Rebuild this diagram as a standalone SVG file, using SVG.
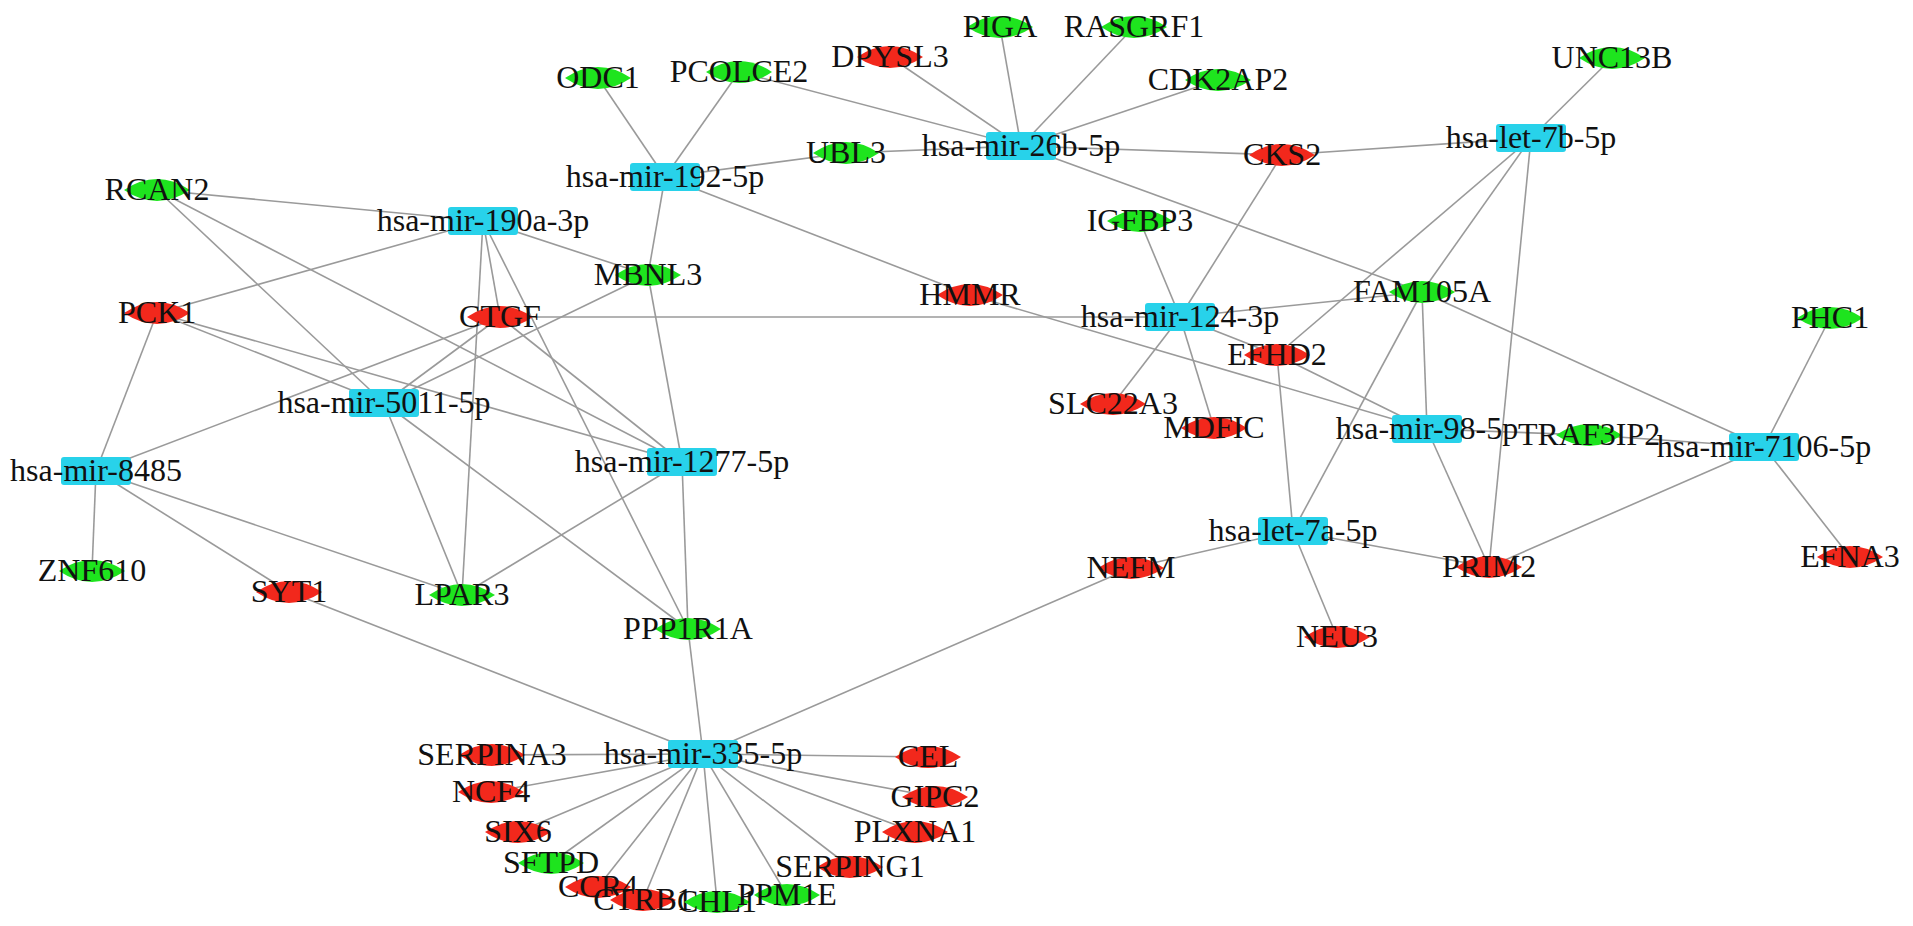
<svg xmlns="http://www.w3.org/2000/svg" xmlns:xlink="http://www.w3.org/1999/xlink" width="1913" height="926" viewBox="0 0 1913 926">
<style>
.e line{stroke:#9a9a9a;stroke-width:1.6}
.mir{fill:#28d2ea}
.up{fill:#f2281c}
.dn{fill:#1ee41e}
text{font-family:"Liberation Serif","Times New Roman",serif;font-size:32px;fill:#111;text-anchor:middle}
</style>
<defs>
<path id="lens" d="M-33,0 Q0,-22 33,0 Q0,22 -33,0Z"/>
<rect id="box" x="-35" y="-14" width="70" height="28" rx="3"/>
</defs>
<rect width="1913" height="926" fill="#fff"/>
<g id="edges" class="e">
<line x1="1021" y1="146" x2="739" y2="72"/>
<line x1="1021" y1="146" x2="890" y2="57"/>
<line x1="1021" y1="146" x2="1000" y2="27"/>
<line x1="1021" y1="146" x2="1134" y2="27"/>
<line x1="1021" y1="146" x2="1218" y2="80"/>
<line x1="1021" y1="146" x2="846" y2="153"/>
<line x1="1021" y1="146" x2="1282" y2="155"/>
<line x1="1021" y1="146" x2="1422" y2="292"/>
<line x1="665" y1="177" x2="598" y2="78"/>
<line x1="665" y1="177" x2="739" y2="72"/>
<line x1="665" y1="177" x2="846" y2="153"/>
<line x1="665" y1="177" x2="648" y2="275"/>
<line x1="665" y1="177" x2="970" y2="295"/>
<line x1="1531" y1="138" x2="1612" y2="58"/>
<line x1="1531" y1="138" x2="1282" y2="155"/>
<line x1="1531" y1="138" x2="1277" y2="355"/>
<line x1="1531" y1="138" x2="1422" y2="292"/>
<line x1="1531" y1="138" x2="1489" y2="567"/>
<line x1="483" y1="221" x2="157" y2="190"/>
<line x1="483" y1="221" x2="157" y2="313"/>
<line x1="483" y1="221" x2="648" y2="275"/>
<line x1="483" y1="221" x2="500" y2="317"/>
<line x1="483" y1="221" x2="462" y2="595"/>
<line x1="483" y1="221" x2="688" y2="629"/>
<line x1="1180" y1="317" x2="1140" y2="221"/>
<line x1="1180" y1="317" x2="1282" y2="155"/>
<line x1="1180" y1="317" x2="500" y2="317"/>
<line x1="1180" y1="317" x2="1422" y2="292"/>
<line x1="1180" y1="317" x2="1113" y2="404"/>
<line x1="1180" y1="317" x2="1214" y2="428"/>
<line x1="1180" y1="317" x2="1277" y2="355"/>
<line x1="1427" y1="429" x2="970" y2="295"/>
<line x1="1427" y1="429" x2="1277" y2="355"/>
<line x1="1427" y1="429" x2="1422" y2="292"/>
<line x1="1427" y1="429" x2="1589" y2="435"/>
<line x1="1427" y1="429" x2="1489" y2="567"/>
<line x1="1764" y1="447" x2="1422" y2="292"/>
<line x1="1764" y1="447" x2="1830" y2="318"/>
<line x1="1764" y1="447" x2="1589" y2="435"/>
<line x1="1764" y1="447" x2="1850" y2="557"/>
<line x1="1764" y1="447" x2="1489" y2="567"/>
<line x1="384" y1="403" x2="157" y2="190"/>
<line x1="384" y1="403" x2="157" y2="313"/>
<line x1="384" y1="403" x2="648" y2="275"/>
<line x1="384" y1="403" x2="500" y2="317"/>
<line x1="384" y1="403" x2="462" y2="595"/>
<line x1="384" y1="403" x2="688" y2="629"/>
<line x1="682" y1="462" x2="157" y2="190"/>
<line x1="682" y1="462" x2="157" y2="313"/>
<line x1="682" y1="462" x2="500" y2="317"/>
<line x1="682" y1="462" x2="648" y2="275"/>
<line x1="682" y1="462" x2="462" y2="595"/>
<line x1="682" y1="462" x2="688" y2="629"/>
<line x1="96" y1="471" x2="157" y2="313"/>
<line x1="96" y1="471" x2="500" y2="317"/>
<line x1="96" y1="471" x2="92" y2="571"/>
<line x1="96" y1="471" x2="289" y2="592"/>
<line x1="96" y1="471" x2="462" y2="595"/>
<line x1="1293" y1="531" x2="1277" y2="355"/>
<line x1="1293" y1="531" x2="1422" y2="292"/>
<line x1="1293" y1="531" x2="1131" y2="568"/>
<line x1="1293" y1="531" x2="1337" y2="637"/>
<line x1="1293" y1="531" x2="1489" y2="567"/>
<line x1="703" y1="754" x2="289" y2="592"/>
<line x1="703" y1="754" x2="688" y2="629"/>
<line x1="703" y1="754" x2="1131" y2="568"/>
<line x1="703" y1="754" x2="492" y2="755"/>
<line x1="703" y1="754" x2="928" y2="757"/>
<line x1="703" y1="754" x2="491" y2="792"/>
<line x1="703" y1="754" x2="935" y2="797"/>
<line x1="703" y1="754" x2="518" y2="832"/>
<line x1="703" y1="754" x2="915" y2="832"/>
<line x1="703" y1="754" x2="551" y2="863"/>
<line x1="703" y1="754" x2="850" y2="867"/>
<line x1="703" y1="754" x2="598" y2="887"/>
<line x1="703" y1="754" x2="643" y2="900"/>
<line x1="703" y1="754" x2="717" y2="902"/>
<line x1="703" y1="754" x2="787" y2="895"/>
</g>
<g id="n-ODC1"><use href="#lens" x="598" y="78" class="dn"/><text x="598" y="88">ODC1</text></g>
<g id="n-PCOLCE2"><use href="#lens" x="739" y="72" class="dn"/><text x="739" y="82">PCOLCE2</text></g>
<g id="n-DPYSL3"><use href="#lens" x="890" y="57" class="up"/><text x="890" y="67">DPYSL3</text></g>
<g id="n-PIGA"><use href="#lens" x="1000" y="27" class="dn"/><text x="1000" y="37">PIGA</text></g>
<g id="n-RASGRF1"><use href="#lens" x="1134" y="27" class="dn"/><text x="1134" y="37">RASGRF1</text></g>
<g id="n-CDK2AP2"><use href="#lens" x="1218" y="80" class="dn"/><text x="1218" y="90">CDK2AP2</text></g>
<g id="n-UNC13B"><use href="#lens" x="1612" y="58" class="dn"/><text x="1612" y="68">UNC13B</text></g>
<g id="n-UBL3"><use href="#lens" x="846" y="153" class="dn"/><text x="846" y="163">UBL3</text></g>
<g id="n-CKS2"><use href="#lens" x="1282" y="155" class="up"/><text x="1282" y="165">CKS2</text></g>
<g id="n-RCAN2"><use href="#lens" x="157" y="190" class="dn"/><text x="157" y="200">RCAN2</text></g>
<g id="n-IGFBP3"><use href="#lens" x="1140" y="221" class="dn"/><text x="1140" y="231">IGFBP3</text></g>
<g id="n-MBNL3"><use href="#lens" x="648" y="275" class="dn"/><text x="648" y="285">MBNL3</text></g>
<g id="n-PCK1"><use href="#lens" x="157" y="313" class="up"/><text x="157" y="323">PCK1</text></g>
<g id="n-CTGF"><use href="#lens" x="500" y="317" class="up"/><text x="500" y="327">CTGF</text></g>
<g id="n-HMMR"><use href="#lens" x="970" y="295" class="up"/><text x="970" y="305">HMMR</text></g>
<g id="n-FAM105A"><use href="#lens" x="1422" y="292" class="dn"/><text x="1422" y="302">FAM105A</text></g>
<g id="n-PHC1"><use href="#lens" x="1830" y="318" class="dn"/><text x="1830" y="328">PHC1</text></g>
<g id="n-EFHD2"><use href="#lens" x="1277" y="355" class="up"/><text x="1277" y="365">EFHD2</text></g>
<g id="n-SLC22A3"><use href="#lens" x="1113" y="404" class="up"/><text x="1113" y="414">SLC22A3</text></g>
<g id="n-MDFIC"><use href="#lens" x="1214" y="428" class="up"/><text x="1214" y="438">MDFIC</text></g>
<g id="n-TRAF3IP2"><use href="#lens" x="1589" y="435" class="dn"/><text x="1589" y="445">TRAF3IP2</text></g>
<g id="n-EFNA3"><use href="#lens" x="1850" y="557" class="up"/><text x="1850" y="567">EFNA3</text></g>
<g id="n-ZNF610"><use href="#lens" x="92" y="571" class="dn"/><text x="92" y="581">ZNF610</text></g>
<g id="n-SYT1"><use href="#lens" x="289" y="592" class="up"/><text x="289" y="602">SYT1</text></g>
<g id="n-LPAR3"><use href="#lens" x="462" y="595" class="dn"/><text x="462" y="605">LPAR3</text></g>
<g id="n-NEFM"><use href="#lens" x="1131" y="568" class="up"/><text x="1131" y="578">NEFM</text></g>
<g id="n-NEU3"><use href="#lens" x="1337" y="637" class="up"/><text x="1337" y="647">NEU3</text></g>
<g id="n-PRIM2"><use href="#lens" x="1489" y="567" class="up"/><text x="1489" y="577">PRIM2</text></g>
<g id="n-PPP1R1A"><use href="#lens" x="688" y="629" class="dn"/><text x="688" y="639">PPP1R1A</text></g>
<g id="n-SERPINA3"><use href="#lens" x="492" y="755" class="up"/><text x="492" y="765">SERPINA3</text></g>
<g id="n-CEL"><use href="#lens" x="928" y="757" class="up"/><text x="928" y="767">CEL</text></g>
<g id="n-NCF4"><use href="#lens" x="491" y="792" class="up"/><text x="491" y="802">NCF4</text></g>
<g id="n-GIPC2"><use href="#lens" x="935" y="797" class="up"/><text x="935" y="807">GIPC2</text></g>
<g id="n-SIX6"><use href="#lens" x="518" y="832" class="up"/><text x="518" y="842">SIX6</text></g>
<g id="n-PLXNA1"><use href="#lens" x="915" y="832" class="up"/><text x="915" y="842">PLXNA1</text></g>
<g id="n-SFTPD"><use href="#lens" x="551" y="863" class="dn"/><text x="551" y="873">SFTPD</text></g>
<g id="n-SERPING1"><use href="#lens" x="850" y="867" class="up"/><text x="850" y="877">SERPING1</text></g>
<g id="n-CCR4"><use href="#lens" x="598" y="887" class="up"/><text x="598" y="897">CCR4</text></g>
<g id="n-CTRB1"><use href="#lens" x="643" y="900" class="up"/><text x="643" y="910">CTRB1</text></g>
<g id="n-CHL1"><use href="#lens" x="717" y="902" class="dn"/><text x="717" y="912">CHL1</text></g>
<g id="n-PPM1E"><use href="#lens" x="787" y="895" class="dn"/><text x="787" y="905">PPM1E</text></g>
<g id="n-hsa-mir-26b-5p"><use href="#box" x="1021" y="146" class="mir"/><text x="1021" y="156">hsa-mir-26b-5p</text></g>
<g id="n-hsa-mir-192-5p"><use href="#box" x="665" y="177" class="mir"/><text x="665" y="187">hsa-mir-192-5p</text></g>
<g id="n-hsa-let-7b-5p"><use href="#box" x="1531" y="138" class="mir"/><text x="1531" y="148">hsa-let-7b-5p</text></g>
<g id="n-hsa-mir-190a-3p"><use href="#box" x="483" y="221" class="mir"/><text x="483" y="231">hsa-mir-190a-3p</text></g>
<g id="n-hsa-mir-124-3p"><use href="#box" x="1180" y="317" class="mir"/><text x="1180" y="327">hsa-mir-124-3p</text></g>
<g id="n-hsa-mir-98-5p"><use href="#box" x="1427" y="429" class="mir"/><text x="1427" y="439">hsa-mir-98-5p</text></g>
<g id="n-hsa-mir-7106-5p"><use href="#box" x="1764" y="447" class="mir"/><text x="1764" y="457">hsa-mir-7106-5p</text></g>
<g id="n-hsa-mir-5011-5p"><use href="#box" x="384" y="403" class="mir"/><text x="384" y="413">hsa-mir-5011-5p</text></g>
<g id="n-hsa-mir-1277-5p"><use href="#box" x="682" y="462" class="mir"/><text x="682" y="472">hsa-mir-1277-5p</text></g>
<g id="n-hsa-mir-8485"><use href="#box" x="96" y="471" class="mir"/><text x="96" y="481">hsa-mir-8485</text></g>
<g id="n-hsa-let-7a-5p"><use href="#box" x="1293" y="531" class="mir"/><text x="1293" y="541">hsa-let-7a-5p</text></g>
<g id="n-hsa-mir-335-5p"><use href="#box" x="703" y="754" class="mir"/><text x="703" y="764">hsa-mir-335-5p</text></g>
</svg>
